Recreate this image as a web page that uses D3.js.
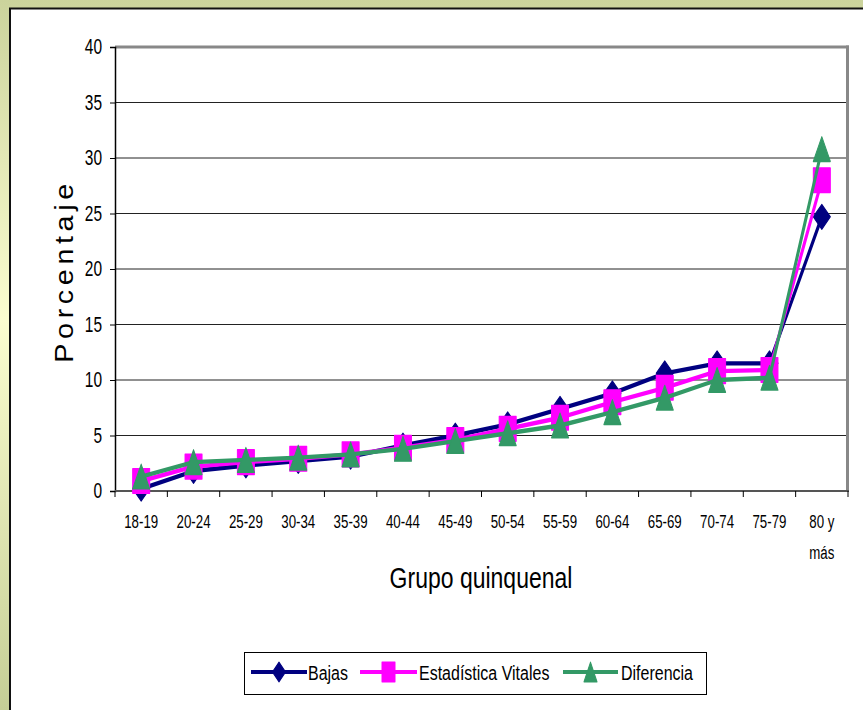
<!DOCTYPE html>
<html><head><meta charset="utf-8">
<script src="https://cdn.jsdelivr.net/npm/d3@7"></script>
<style>html,body{margin:0;padding:0;overflow:hidden;}svg{display:block;}</style>
</head><body>
<script>
const categories = ["18-19","20-24","25-29","30-34","35-39","40-44","45-49","50-54","55-59","60-64","65-69","70-74","75-79","80 y\nmás"];
const bajas       = [0.2,1.8,2.3,2.7,3.1,4.1,5.0,6.0,7.4,8.8,10.6,11.5,11.5,24.7];
const estadistica = [0.9,2.2,2.6,2.9,3.3,3.9,4.6,5.6,6.6,8.0,9.3,10.8,10.9,28.0];
const diferencia  = [1.3,2.6,2.8,3.0,3.3,3.8,4.5,5.2,5.9,7.1,8.4,10.0,10.2,30.8];
const yTicks = [0,5,10,15,20,25,30,35,40];
const seriesNames = ["Bajas","Estadística Vitales","Diferencia"];
const seriesColors = ["#000080","#FF00FF","#339966"];
const seriesShapes = ["diamond","square","triangle"];
const seriesData = [bajas, estadistica, diferencia];

const W = 863, H = 710;
const SY = 1.45;   // vertical stretch of marks
const TS = 1.33;   // vertical stretch of text
const FONT = "'Liberation Sans', Arial, sans-serif";

const svg = d3.select("body").append("svg").attr("width", W).attr("height", H);
const defs = svg.append("defs");
const grad = defs.append("linearGradient").attr("id","bg").attr("x1",0).attr("y1",0).attr("x2",0).attr("y2",1);
grad.append("stop").attr("offset","0%").attr("stop-color","#cbd39c");
grad.append("stop").attr("offset","45%").attr("stop-color","#fbfdd0");
grad.append("stop").attr("offset","100%").attr("stop-color","#c5ce96");
svg.append("rect").attr("width",W).attr("height",H).attr("fill","url(#bg)");
svg.append("rect").attr("x",10).attr("y",8.5).attr("width",W).attr("height",H).attr("fill","#fff")
  .attr("stroke","#111").attr("stroke-width",2);

const x = d3.scaleBand().domain(d3.range(categories.length)).range([115, 848]);
const y = d3.scaleLinear().domain([0,40]).range([491, 47]);

function stext(parent, px, py, str, size, anchor, ts) {
  return parent.append("text")
    .attr("transform", `translate(${px},${py}) scale(1,${ts||TS})`)
    .attr("font-family", FONT).attr("font-size", size)
    .attr("text-anchor", anchor || "middle").attr("fill", "#000").text(str);
}

// gridlines
const grid = svg.append("g");
grid.selectAll("line").data(yTicks.filter(t => t > 0 && t < 40)).join("line")
  .attr("x1",115).attr("x2",848).attr("y1",d=>y(d)).attr("y2",d=>y(d))
  .attr("stroke","#222").attr("stroke-width",1);
// plot frame top & right (gray)
svg.append("line").attr("x1",115).attr("x2",849).attr("y1",y(40)).attr("y2",y(40)).attr("stroke","#888").attr("stroke-width",3);
svg.append("line").attr("x1",847.5).attr("x2",847.5).attr("y1",y(40)-1.5).attr("y2",491).attr("stroke","#888").attr("stroke-width",3);

// y axis
const yAxis = d3.axisLeft(y).tickValues(yTicks).tickSize(5).tickFormat("");
const yg = svg.append("g").attr("transform","translate(115,0)").call(yAxis);
yg.select(".domain").attr("stroke","#000").attr("stroke-width",1.5);
yg.selectAll(".tick line").attr("stroke","#000");
yTicks.forEach(t => stext(svg, 102, y(t)+7, String(t), 15.5, "end", 1.38));

// x axis
const bounds = d3.range(categories.length + 1).map(i => 115 + i * x.step());
svg.append("line").attr("x1",115).attr("x2",849).attr("y1",491).attr("y2",491).attr("stroke","#555").attr("stroke-width",2);
svg.append("g").selectAll("line").data(bounds).join("line")
  .attr("x1",d=>d).attr("x2",d=>d).attr("y1",491).attr("y2",497).attr("stroke","#000").attr("stroke-width",1);
categories.forEach((c,i) => {
  const cx = x(i) + x.bandwidth()/2;
  c.split("\n").forEach((ln,k) => stext(svg, cx, 527.5 + k*31, ln, 13.3, "middle", 1.32));
});

// titles
stext(svg, 481, 588, "Grupo quinquenal", 23, "middle", 1.32);
svg.append("text")
  .attr("transform", `translate(73,271) rotate(-90) scale(1.15,1)`)
  .attr("font-family", FONT).attr("font-size", 25).attr("text-anchor","middle")
  .attr("letter-spacing", 4).text("Porcentaje");

// series (drawn in a vertically stretched group)
function markerPath(shape, w, h) {
  const a = w/2, b = h/2;
  if (shape === "diamond") return `M0,${-b}L${a},0L0,${b}L${-a},0Z`;
  if (shape === "square") return `M${-a},${-b}H${a}V${b}H${-a}Z`;
  return `M0,${-b}L${a},${b}L${-a},${b}Z`;
}
const plot = svg.append("g").attr("transform", `scale(1,${SY})`);
const line = d3.line().x((d,i)=>x(i)+x.bandwidth()/2).y(d=>y(d)/SY);
seriesData.forEach((data, s) => {
  const g = plot.append("g");
  g.append("path").datum(data).attr("d", line).attr("fill","none")
    .attr("stroke", seriesColors[s]).attr("stroke-width", 3).attr("stroke-linejoin","round");
  g.selectAll("path.m").data(data).join("path").attr("class","m")
    .attr("transform",(d,i)=>`translate(${x(i)+x.bandwidth()/2},${y(d)/SY})`)
    .attr("d", markerPath(seriesShapes[s], 17, 17))
    .attr("fill", seriesColors[s]).attr("stroke", seriesColors[s]).attr("stroke-width",1).attr("stroke-linejoin","round");
});

// legend
const lg = svg.append("g");
lg.append("rect").attr("x",244.5).attr("y",652.5).attr("width",462).attr("height",42)
  .attr("fill","#fff").attr("stroke","#000").attr("stroke-width",1);
const legItems = [
  {x1:251, x2:307, tx:308},
  {x1:360, x2:417, tx:419},
  {x1:563, x2:618, tx:621}
];
legItems.forEach((it, s) => {
  lg.append("line").attr("x1",it.x1).attr("x2",it.x2).attr("y1",672).attr("y2",672)
    .attr("stroke",seriesColors[s]).attr("stroke-width",4);
  const mg = lg.append("g").attr("transform",`translate(${(it.x1+it.x2)/2},672) scale(1,${SY})`);
  mg.append("path").attr("d", markerPath(seriesShapes[s], 13, 13.5))
    .attr("fill",seriesColors[s]).attr("stroke",seriesColors[s]).attr("stroke-width",1).attr("stroke-linejoin","round");
  stext(lg, it.tx, 680, seriesNames[s], 16, "start", 1.3);
});
</script>
</body></html>
